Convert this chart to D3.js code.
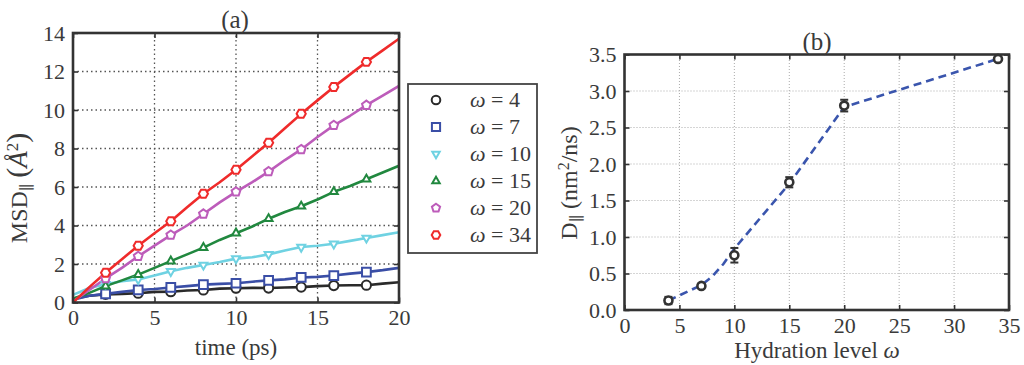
<!DOCTYPE html>
<html><head><meta charset="utf-8">
<script src="https://cdn.jsdelivr.net/npm/d3@7"></script>
<style>
body{margin:0;background:#fff;}
</style></head>
<body><svg id="c" width="1024" height="365"></svg>
<script>
// ---- Panel (a) data ----
const times = d3.range(0, 21, 1);
const markerTimes = [2,4,6,8,10,12,14,16,18];
const omegaLabels = ["4","7","10","15","20","34"];
const msd4  = [0.2,0.35,0.42,0.45,0.48,0.55,0.56,0.62,0.65,0.72,0.74,0.76,0.75,0.78,0.8,0.85,0.88,0.9,0.9,0.98,1.05];
const msd7  = [0.15,0.35,0.45,0.55,0.65,0.7,0.78,0.85,0.93,0.97,1.0,1.08,1.15,1.2,1.3,1.33,1.4,1.5,1.58,1.68,1.8];
const msd10 = [0.4,0.75,0.95,1.1,1.2,1.4,1.62,1.8,1.95,2.1,2.28,2.35,2.5,2.7,2.88,2.95,3.05,3.2,3.35,3.5,3.65];
const msd15 = [0.2,0.5,0.85,1.15,1.45,1.8,2.15,2.5,2.85,3.25,3.6,3.95,4.35,4.7,5.0,5.35,5.75,6.05,6.4,6.75,7.1];
const msd20 = [0.05,0.65,1.25,1.8,2.4,2.95,3.5,4.0,4.6,5.2,5.75,6.25,6.8,7.4,7.95,8.6,9.2,9.7,10.25,10.75,11.25];
const msd34 = [0,0.8,1.55,2.25,2.95,3.6,4.22,4.95,5.65,6.25,6.9,7.6,8.3,9.05,9.8,10.5,11.2,11.85,12.5,13.1,13.7];
const aXTicks = [0,5,10,15,20];
const aYTicks = [0,2,4,6,8,10,12,14];

// ---- Panel (b) data ----
const hydration = [4,7,10,15,20,34];
const diffusion = [0.13,0.33,0.75,1.75,2.80,3.44];
const diffErr   = [0.05,0.03,0.10,0.07,0.08,0.02];
const fitX = [4,7,8,9,10,15,20,34];
const fitY = [0.13,0.34,0.46,0.63,0.84,1.73,2.78,3.44];
const bXTicks = [0,5,10,15,20,25,30,35];
const bYTicks = [0,0.5,1.0,1.5,2.0,2.5,3.0,3.5];

const seriesColors = ["#2a2a2a","#3a4ea6","#6fd2e2","#21883f","#bd5cba","#ef2b2b"];
const seriesShapes = ["circle","square","triDown","triUp","pentagon","hexagon"];
const seriesVals = [msd4,msd7,msd10,msd15,msd20,msd34];

const FONT = "'Liberation Serif', 'DejaVu Serif', serif";
const svg = d3.select("#c");
const frameColor = "#333";
function txt(sel){ return sel.style("font-family",FONT).style("fill","#3a3a3a"); }

function shapePath(kind, r){
  function poly(n, rot){
    const pts=[];
    for(let i=0;i<n;i++){const a=rot+i*2*Math.PI/n; pts.push([r*Math.cos(a), r*Math.sin(a)]);}
    return "M"+pts.map(p=>p.join(",")).join("L")+"Z";
  }
  switch(kind){
    case "circle": return d3.symbol(d3.symbolCircle, Math.PI*r*r)();
    case "square": {const s=r*0.95; return `M${-s},${-s}H${s}V${s}H${-s}Z`;}
    case "triDown": return poly(3, Math.PI/2);
    case "triUp": return poly(3, -Math.PI/2);
    case "pentagon": return poly(5, -Math.PI/2);
    case "hexagon": return poly(6, 0);
  }
}

function panel(g, x, y, xt, yt, fmtY, gridStyle){
  const [x0,x1]=x.range(), [y0,y1]=y.range();
  const grid = g.append("g");
  xt.forEach(v=>{ if(v!==x.domain()[0] && v!==x.domain()[1]) grid.append("line").attr("x1",x(v)).attr("x2",x(v)).attr("y1",y0).attr("y2",y1)
     .attr("stroke",gridStyle.c).attr("stroke-width",gridStyle.w).attr("stroke-dasharray",gridStyle.d);});
  yt.forEach(v=>{ if(v!==y.domain()[0] && v!==y.domain()[1]) grid.append("line").attr("x1",x0).attr("x2",x1).attr("y1",y(v)).attr("y2",y(v))
     .attr("stroke",gridStyle.c).attr("stroke-width",gridStyle.w).attr("stroke-dasharray",gridStyle.d);});
  const tl=5;
  const ax = g.append("g").attr("transform",`translate(0,${y0})`).call(d3.axisBottom(x).tickValues(xt).tickSize(-tl).tickPadding(7).tickFormat(d3.format("d")));
  const axT = g.append("g").attr("transform",`translate(0,${y1})`).call(d3.axisTop(x).tickValues(xt).tickSize(-tl).tickFormat(""));
  const ay = g.append("g").attr("transform",`translate(${x0},0)`).call(d3.axisLeft(y).tickValues(yt).tickSize(-tl).tickPadding(8).tickFormat(fmtY));
  const ayR = g.append("g").attr("transform",`translate(${x1},0)`).call(d3.axisRight(y).tickValues(yt).tickSize(-tl).tickFormat(""));
  [ax,axT,ay,ayR].forEach(a=>{a.select(".domain").remove(); a.attr("font-family",null).attr("font-size",null);
     a.selectAll(".tick line").attr("stroke",frameColor).attr("stroke-width",1.6);
     txt(a.selectAll("text")).style("font-size","22px");});
  ax.selectAll("text").attr("dy","0.72em");
  return g;
}
function frame(g,x,y){
  const [x0,x1]=x.range(), [y0,y1]=y.range();
  g.append("rect").attr("x",x0).attr("y",y1).attr("width",x1-x0).attr("height",y0-y1)
   .attr("fill","none").attr("stroke",frameColor).attr("stroke-width",2.6);
}

// ---- Panel (a) ----
const xa = d3.scaleLinear().domain([0,20]).range([73,399]);
const ya = d3.scaleLinear().domain([0,14]).range([302.5,33]);
const ga = svg.append("g");
panel(ga, xa, ya, aXTicks, aYTicks, d3.format("d"), {c:"#555",w:1.3,d:"1.5,3"});
svg.append("clipPath").attr("id","clipA").append("rect").attr("x",73).attr("y",33).attr("width",326).attr("height",269.5);
const line = d3.line().x((d,i)=>xa(times[i])).y(d=>ya(d));
seriesVals.forEach((vals,k)=>{
  ga.append("path").attr("d",line(vals)).attr("fill","none").attr("stroke",seriesColors[k]).attr("stroke-width",2.6)
    .attr("stroke-linejoin","round").attr("clip-path","url(#clipA)");
});
seriesVals.forEach((vals,k)=>{
  ga.append("g").selectAll("path").data(markerTimes).join("path")
    .attr("d",shapePath(seriesShapes[k],4.6))
    .attr("transform",t=>`translate(${xa(t)},${ya(vals[times.indexOf(t)])})`)
    .attr("fill","#fff").attr("stroke",seriesColors[k]).attr("stroke-width",2);
});
frame(ga,xa,ya);
txt(ga.append("text")).attr("x",235).attr("y",28).attr("text-anchor","middle").style("font-size","25px").text("(a)");
txt(ga.append("text")).attr("x",236).attr("y",355).attr("text-anchor","middle").style("font-size","23px").text("time (ps)");
{
  const t = txt(ga.append("text")).attr("transform","translate(27,188) rotate(-90)").attr("text-anchor","middle").style("font-size","24px")
    .attr("xml:space","preserve").style("white-space","pre");
  t.append("tspan").text("MSD");
  t.append("tspan").attr("baseline-shift","-30%").style("font-size","16px").text("∥");
  t.append("tspan").style("font-size","24px").text(" ");
  t.append("tspan").style("font-size","30px").text("(");
  t.append("tspan").style("font-style","italic").style("font-size","27px").text("Å");
  t.append("tspan").attr("baseline-shift","55%").style("font-size","17px").text("2");
  t.append("tspan").style("font-size","30px").text(")");
}

// ---- Legend ----
const lg = svg.append("g");
lg.append("rect").attr("x",408).attr("y",84).attr("width",129).attr("height",169).attr("fill","#fff")
  .attr("stroke","#444").attr("stroke-width",1.8);
omegaLabels.forEach((lab,k)=>{
  const yy = 100 + k*27;
  lg.append("path").attr("d",shapePath(seriesShapes[k],4.3)).attr("transform",`translate(436,${yy})`)
    .attr("fill","#fff").attr("stroke",seriesColors[k]).attr("stroke-width",2);
  const t = txt(lg.append("text")).attr("x",470).attr("y",yy+7).style("font-size","22px");
  t.append("tspan").style("font-style","italic").text("ω");
  t.append("tspan").text(" = "+lab);
});

// ---- Panel (b) ----
const xb = d3.scaleLinear().domain([0,35]).range([624.5,1009]);
const yb = d3.scaleLinear().domain([0,3.5]).range([310,54.5]);
const gb = svg.append("g");
panel(gb, xb, yb, bXTicks, bYTicks, d3.format(".1f"), {c:"#aaa",w:1,d:"1,2"});
const dline = d3.line().x((d,i)=>xb(fitX[i])).y(d=>yb(d)).curve(d3.curveLinear);
gb.append("path").attr("d",dline(fitY)).attr("fill","none").attr("stroke","#3a55ad").attr("stroke-width",2.6)
  .attr("stroke-dasharray","8,5").attr("stroke-linejoin","round");
hydration.forEach((h,i)=>{
  const cx=xb(h), v=diffusion[i], e=diffErr[i];
  gb.append("line").attr("x1",cx).attr("x2",cx).attr("y1",yb(v-e)).attr("y2",yb(v+e)).attr("stroke","#333").attr("stroke-width",2);
  [v-e,v+e].forEach(w=>gb.append("line").attr("x1",cx-4).attr("x2",cx+4).attr("y1",yb(w)).attr("y2",yb(w)).attr("stroke","#333").attr("stroke-width",2));
  gb.append("circle").attr("cx",cx).attr("cy",yb(v)).attr("r",4).attr("fill","#fff").attr("stroke","#333").attr("stroke-width",2.6);
});
frame(gb,xb,yb);
txt(gb.append("text")).attr("x",817).attr("y",50).attr("text-anchor","middle").style("font-size","25px").text("(b)");
{
  const t = txt(gb.append("text")).attr("x",817).attr("y",358).attr("text-anchor","middle").style("font-size","23px");
  t.append("tspan").text("Hydration level ");
  t.append("tspan").style("font-style","italic").text("ω");
}
{
  const t = txt(gb.append("text")).attr("transform","translate(577,183) rotate(-90)").attr("text-anchor","middle").style("font-size","24px")
    .attr("xml:space","preserve").style("white-space","pre");
  t.append("tspan").text("D");
  t.append("tspan").attr("baseline-shift","-30%").style("font-size","16px").text("∥");
  t.append("tspan").text(" (nm");
  t.append("tspan").attr("baseline-shift","50%").style("font-size","16px").text("2");
  t.append("tspan").text("/ns)");
}
</script></body></html>
